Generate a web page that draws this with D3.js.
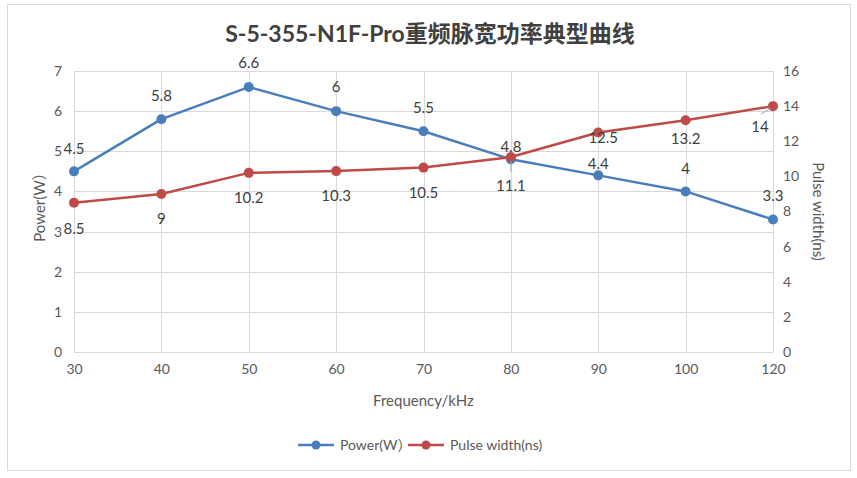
<!DOCTYPE html>
<html>
<head>
<meta charset="utf-8">
<script src="https://cdn.jsdelivr.net/npm/d3@7"></script>
<style>
  body { margin: 0; background: #fff; overflow: hidden; }
  svg { display: block; }
  text { font-family: Lato, "Noto Sans CJK SC", sans-serif; }
</style>
</head>
<body>
<div id="chart"></div>
<script>
// data
const frequencies = ["30", "40", "50", "60", "70", "80", "90", "100", "120"];
const power = [4.5, 5.8, 6.6, 6, 5.5, 4.8, 4.4, 4, 3.3];
const pulseWidth = [8.5, 9, 10.2, 10.3, 10.5, 11.1, 12.5, 13.2, 14];
const powerTicks = [0, 1, 2, 3, 4, 5, 6, 7];
const pulseTicks = [0, 2, 4, 6, 8, 10, 12, 14, 16];

// label nudges (Excel moved some labels around)
const powerLabelDy = [-23, -23, -24, -24, -23, -13, -12, -23, -24];
const pulseLabelDy = [26, 25, 25, 25, 25, 29, 5, 19, 21];
const pulseLabelDx = [0, 0, 0, 0, 0, 0, 5, 0, -13];

const width = 857, height = 478;
const margin = { left: 74, right: 84, top: 71, bottom: 126 };
const innerWidth = width - margin.left - margin.right;
const innerHeight = height - margin.top - margin.bottom;

const blue = "#4a7ebb", red = "#be4b48";

const svg = d3.select("#chart")
  .append("svg")
  .attr("width", width)
  .attr("height", height);

// chart border
svg.append("rect")
  .attr("x", 7.5).attr("y", 4.5)
  .attr("width", 843).attr("height", 466)
  .attr("fill", "none")
  .attr("stroke", "#d9d9d9");

svg.append("text")
  .text("S-5-355-N1F-Pro重频脉宽功率典型曲线")
  .attr("x", 430).attr("y", 42)
  .attr("text-anchor", "middle")
  .attr("font-size", 23)
  .attr("font-weight", "bold")
  .attr("fill", "#404040");

const innerChart = svg.append("g")
  .attr("transform", `translate(${margin.left},${margin.top})`);

const xScale = d3.scalePoint()
  .domain(frequencies)
  .range([0, innerWidth]);

const yLeft = d3.scaleLinear().domain([0, 7]).range([innerHeight, 0]);
const yRight = d3.scaleLinear().domain([0, 16]).range([innerHeight, 0]);

// gridlines
innerChart.append("g")
  .selectAll("line")
  .data(powerTicks)
  .join("line")
  .attr("x1", 0).attr("x2", innerWidth)
  .attr("y1", d => Math.round(yLeft(d)) + 0.5)
  .attr("y2", d => Math.round(yLeft(d)) + 0.5)
  .attr("stroke", "#d9d9d9");

innerChart.append("g")
  .selectAll("line")
  .data(frequencies)
  .join("line")
  .attr("x1", d => Math.round(xScale(d)) + 0.5)
  .attr("x2", d => Math.round(xScale(d)) + 0.5)
  .attr("y1", 0).attr("y2", innerHeight)
  .attr("stroke", "#d9d9d9");

// axes
const styleAxis = g => {
  g.attr("font-family", null).attr("font-size", null).attr("fill", null);
  g.select(".domain").remove();
  g.selectAll(".tick line").remove();
  g.selectAll("text").attr("fill", "#595959").attr("font-size", 14);
};

innerChart.append("g")
  .attr("transform", `translate(0,${innerHeight})`)
  .call(d3.axisBottom(xScale).tickSize(0).tickPadding(12))
  .call(styleAxis);

innerChart.append("g")
  .call(d3.axisLeft(yLeft).tickValues(powerTicks).tickFormat(d3.format("d")).tickSize(0).tickPadding(12))
  .call(styleAxis);

innerChart.append("g")
  .attr("transform", `translate(${innerWidth},0)`)
  .call(d3.axisRight(yRight).tickValues(pulseTicks).tickSize(0).tickPadding(10))
  .call(styleAxis);

// axis titles
svg.append("text")
  .text("Frequency/kHz")
  .attr("x", margin.left + innerWidth / 2).attr("y", 406)
  .attr("text-anchor", "middle")
  .attr("font-size", 15)
  .attr("fill", "#595959");

svg.append("text")
  .text("Power(W）")
  .attr("transform", `translate(45,${margin.top + innerHeight / 2 - 8}) rotate(-90)`)
  .attr("text-anchor", "middle")
  .attr("font-size", 15)
  .attr("fill", "#595959");

svg.append("text")
  .text("Pulse width(ns)")
  .attr("transform", `translate(813,${margin.top + innerHeight / 2}) rotate(90)`)
  .attr("text-anchor", "middle")
  .attr("font-size", 15)
  .attr("fill", "#595959");

// series
const series = [
  { name: "Power(W）", values: power, y: yLeft, color: blue },
  { name: "Pulse width(ns)", values: pulseWidth, y: yRight, color: red }
];

series.forEach(s => {
  const line = d3.line()
    .x((d, i) => xScale(frequencies[i]))
    .y(d => s.y(d));

  innerChart.append("path")
    .datum(s.values)
    .attr("d", line)
    .attr("fill", "none")
    .attr("stroke", s.color)
    .attr("stroke-width", 2.5)
    .attr("stroke-linejoin", "round");

  innerChart.append("g")
    .selectAll("circle")
    .data(s.values)
    .join("circle")
    .attr("cx", (d, i) => xScale(frequencies[i]))
    .attr("cy", d => s.y(d))
    .attr("r", 5)
    .attr("fill", s.color);
});

// leader lines for the moved pulse labels
innerChart.append("g")
  .selectAll("line")
  .data([5, 8])
  .join("line")
  .attr("x1", i => xScale(frequencies[i]) + (i === 8 ? -2 : 0))
  .attr("y1", i => yRight(pulseWidth[i]) + (i === 8 ? 2 : 4))
  .attr("x2", i => xScale(frequencies[i]) + (i === 8 ? -12 : 0))
  .attr("y2", i => yRight(pulseWidth[i]) + (i === 8 ? 8 : 15))
  .attr("stroke", "#a6a6a6")
  .attr("stroke-width", 1);

// data labels
innerChart.append("g")
  .selectAll("text")
  .data(power)
  .join("text")
  .text(d => d)
  .attr("x", (d, i) => xScale(frequencies[i]))
  .attr("y", (d, i) => yLeft(d) + powerLabelDy[i])
  .attr("dy", "0.35em")
  .attr("text-anchor", "middle")
  .attr("font-size", 15)
  .attr("fill", "#404040");

innerChart.append("g")
  .selectAll("text")
  .data(pulseWidth)
  .join("text")
  .text(d => d)
  .attr("x", (d, i) => xScale(frequencies[i]) + pulseLabelDx[i])
  .attr("y", (d, i) => yRight(d) + pulseLabelDy[i])
  .attr("dy", "0.35em")
  .attr("text-anchor", "middle")
  .attr("font-size", 15)
  .attr("fill", "#404040");

// legend
const legend = svg.append("g").attr("transform", "translate(298,445)");
const legendX = [0, 110];
series.forEach((s, i) => {
  const g = legend.append("g").attr("transform", `translate(${legendX[i]},0)`);
  g.append("line")
    .attr("x1", 0).attr("x2", 36)
    .attr("stroke", s.color).attr("stroke-width", 2.5);
  g.append("circle").attr("cx", 18).attr("r", 4.5).attr("fill", s.color);
  g.append("text")
    .text(s.name)
    .attr("x", 42).attr("dy", "0.35em")
    .attr("font-size", 14)
    .attr("fill", "#595959");
});
</script>
</body>
</html>
